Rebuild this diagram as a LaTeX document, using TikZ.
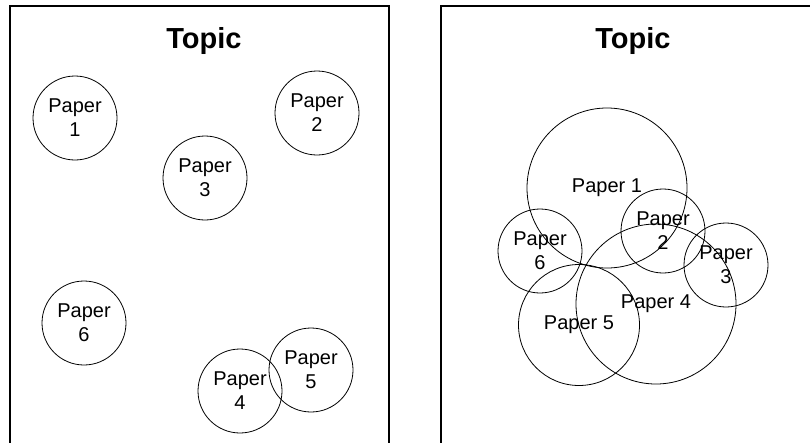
\documentclass[tikz,border=0pt]{standalone}
\usepackage{fontspec}
\setmainfont{Liberation Sans}
\begin{document}
\begin{tikzpicture}[x=1pt,y=-1pt,
  paper/.style={draw,circle,inner sep=0pt,line width=0.8pt,align=center,
    font=\fontsize{20}{24}\selectfont},
  small/.style={paper,minimum size=84pt},
  topic/.style={anchor=base,font=\fontsize{29}{32}\selectfont\bfseries},
  frame/.style={line width=2pt}]
\clip (0,0) rectangle (810,442);
% frames
\draw[frame] (10,460) -- (10,6) -- (389,6) -- (389,460);
\draw[frame] (441,460) -- (441,6) -- (820,6);
% titles
\node[topic] (t1) at (204,48) {Topic};
\node[topic] (t2) at (633,48) {Topic};
% left panel
\node[small] (l1) at (75,118) {Paper\\1};
\node[small] (l2) at (317,113) {Paper\\2};
\node[small] (l3) at (205,178) {Paper\\3};
\node[small] (l6) at (84,323) {Paper\\6};
\node[small] (l4) at (240,391) {Paper\\4};
\node[small] (l5) at (311,370) {Paper\\5};
% right panel
\node[paper,minimum size=160pt] (r1) at (607,188) {Paper 1};
\node[paper,minimum size=160pt] (r4) at (656,304) {Paper 4};
\node[paper,minimum size=121pt] (r5) at (579,325) {Paper 5};
\node[small] (r2) at (663,231) {Paper\\2};
\node[small] (r3) at (726,265) {Paper\\3};
\node[small] (r6) at (540,251) {Paper\\6};
\end{tikzpicture}
\end{document}
